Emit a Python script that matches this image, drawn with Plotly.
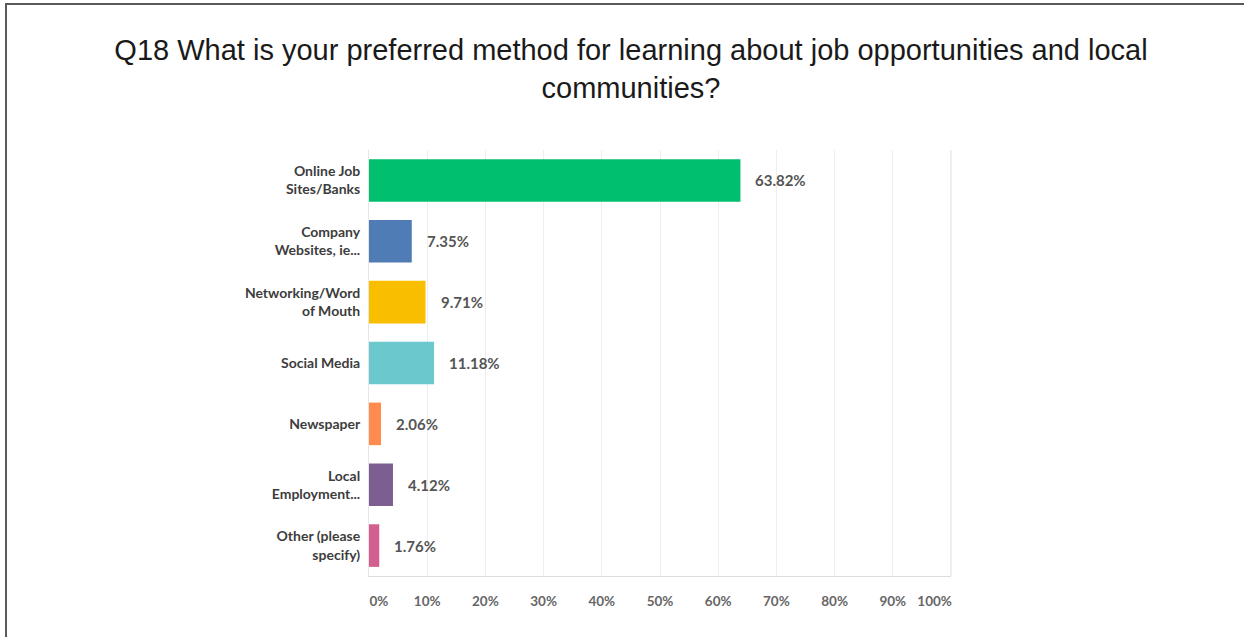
import plotly.graph_objects as go

# Survey responses, top to bottom as listed in the questionnaire
categories = [
    "Online Job<br>Sites/Banks",
    "Company<br>Websites, ie...",
    "Networking/Word<br>of Mouth",
    "Social Media",
    "Newspaper",
    "Local<br>Employment...",
    "Other (please<br>specify)",
]
percentages = [63.82, 7.35, 9.71, 11.18, 2.06, 4.12, 1.76]
bar_colors = ["#00BF6F", "#507CB6", "#F9BE00", "#6BC8CD", "#FF8B4F", "#7D5E90", "#D25F90"]
tick_values = [0, 10, 20, 30, 40, 50, 60, 70, 80, 90, 100]
# end labels are nudged inward so they stay inside the plot width
NB = "\u00a0"
tick_labels = [NB * 6 + "0%", "10%", "20%", "30%", "40%", "50%", "60%", "70%", "80%", "90%",
               "100%" + NB * 10]

W, H = 1244, 637
M = dict(l=369, r=293, t=150, b=61)

fig = go.Figure(
    go.Bar(
        x=percentages,
        y=categories,
        orientation="h",
        marker=dict(color=bar_colors, line=dict(width=0)),
        width=0.7,
        hoverinfo="skip",
    )
)

for cat, val in zip(categories, percentages):
    fig.add_annotation(
        x=val, y=cat, text=f"<b>{val:.2f}%</b>", showarrow=False,
        xanchor="left", xshift=13,
        font=dict(family="Lato", size=15, color="#555555"),
    )

# frame lines along the top and left edges of the page
pw = W - M["l"] - M["r"]
ph = H - M["t"] - M["b"]
def px_x(px):
    return (px - M["l"]) / pw
def px_y(py):
    return (H - M["b"] - py) / ph

frame = dict(color="#5a5a5a", width=2)
fig.add_shape(type="line", xref="paper", yref="paper",
              x0=px_x(5), x1=px_x(W), y0=px_y(4), y1=px_y(4), line=frame)
fig.add_shape(type="line", xref="paper", yref="paper",
              x0=px_x(6), x1=px_x(6), y0=px_y(4), y1=px_y(H), line=frame)

fig.update_layout(
    width=W, height=H,
    margin=M,
    paper_bgcolor="white",
    plot_bgcolor="white",
    showlegend=False,
    title=dict(
        text="Q18 What is your preferred method for learning about job opportunities and local<br>communities?",
        x=631 / W, xref="container", xanchor="center",
        y=1 - 60 / H, yanchor="middle",
        font=dict(family="Liberation Sans", size=29, color="#1a1a1a"),
    ),
    xaxis=dict(
        range=[0, 100],
        tickvals=tick_values,
        ticktext=tick_labels,
        showgrid=True, gridcolor="#eeeeee", gridwidth=1,
        zeroline=False,
        showline=True, linecolor="#dddddd", linewidth=1,
        ticks="", ticklabelstandoff=13,
        tickfont=dict(family="Lato", size=13.5, color="#666666", weight="bold"),
        fixedrange=True,
    ),
    yaxis=dict(
        categoryorder="array", categoryarray=categories[::-1],
        autorange=False, range=[-0.5, 6.5],
        showline=True, linecolor="#e6e6e6", linewidth=1,
        showgrid=False, zeroline=False,
        ticks="", ticklabelstandoff=5,
        tickfont=dict(family="Lato", size=14, color="#3d3d3d", weight="bold"),
        fixedrange=True,
    ),
)

# right-hand edge of the plot area
fig.add_shape(type="line", xref="paper", yref="paper",
              x0=1, x1=1, y0=0, y1=1, line=dict(color="#dddddd", width=1))

fig.write_html("out.html")
